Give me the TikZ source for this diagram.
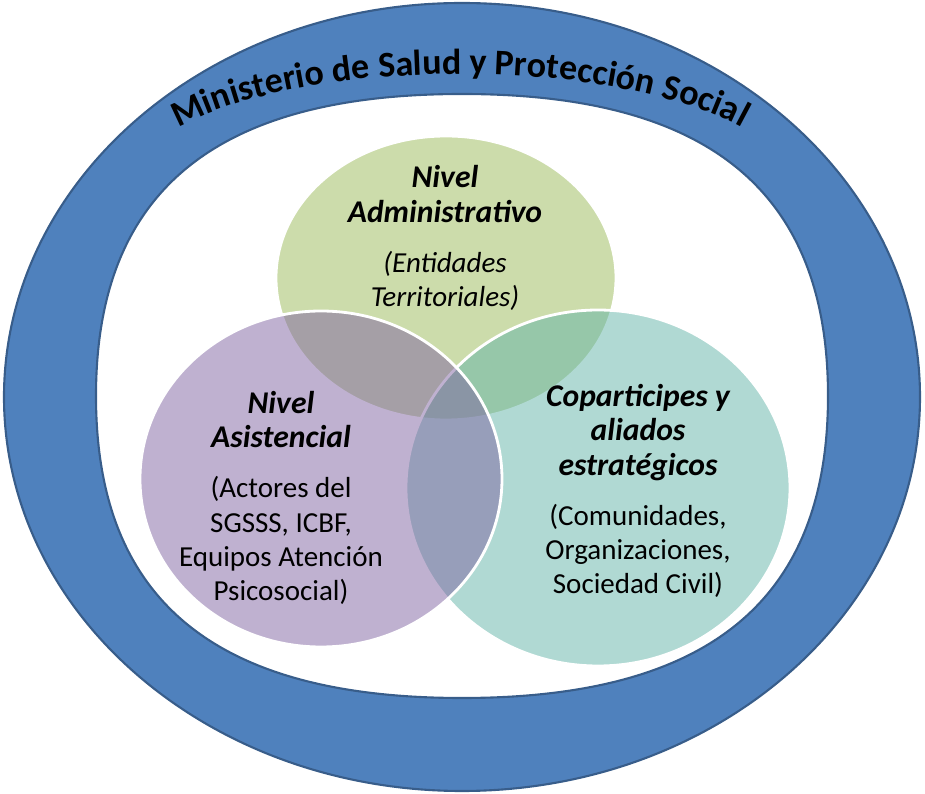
\documentclass[tikz,border=0pt]{standalone}
\usepackage{fontspec}
\setmainfont{Carlito}
\usetikzlibrary{shapes.geometric, decorations.text}

\definecolor{ringblue}{HTML}{4F81BD}
\definecolor{ringedge}{HTML}{385D8A}
\definecolor{admgreen}{HTML}{9BBB59}
\definecolor{asipurple}{HTML}{8064A2}
\definecolor{aliteal}{RGB}{98,180,168}

\newcommand{\hd}[1]{{\fontsize{18}{20}\selectfont\bfseries\itshape #1}}

\begin{document}
\begin{tikzpicture}[
  ring/.style={draw=ringedge, line width=1.2pt},
  venn/.style={ellipse, draw=white, line width=1.6pt, fill opacity=0.5, inner sep=0pt},
  txt/.style={align=center, text=black, inner sep=0pt,
              font=\fontsize{16.5}{19.5}\selectfont}
]
  \useasboundingbox (-9.24,-7.94) rectangle (9.26,7.94);

  % ring of the ministry
  \node[ring, ellipse, inner sep=0pt, fill=ringblue, minimum width=18.32cm, minimum height=15.76cm] (outer) at (0,0) {};
  \draw[ring, fill=white] (7.32,0.02)
    .. controls (7.32,4.1) and (4.95,6.06) .. (0,6.06)
    .. controls (-4.95,6.06) and (-7.32,4.1) .. (-7.32,0.02)
    .. controls (-7.32,-4.06) and (-4.95,-6.02) .. (0,-6.02)
    .. controls (4.95,-6.02) and (7.32,-4.06) .. cycle;
  \path[decorate, decoration={text along path, text align=center,
        text={|\fontsize{20.5}{22}\selectfont\bfseries|Ministerio de Salud y Protección Social}}]
    (-6.64,4.22) arc[start angle=180, end angle=0, x radius=6.6cm, y radius=2.24cm];

  % three levels
  \node[venn, fill=admgreen, minimum width=6.8cm, minimum height=5.68cm] (adm) at (-0.32,2.38) {};
  \node[venn, fill=aliteal, minimum width=7.68cm, minimum height=7.12cm] (ali) at (2.72,-1.82) {};
  \node[venn, fill=asipurple, minimum width=7.24cm, minimum height=6.72cm] (asi) at (-2.82,-1.64) {};

  \node[txt] (admtxt) at (-0.34,3.18)
    {\hd{Nivel}\\\hd{Administrativo}\\[9pt]\textit{(Entidades}\\\textit{Territoriales)}};
  \node[txt] (asitxt) at (-3.62,-2.02)
    {\hd{Nivel}\\\hd{Asistencial}\\[9pt](Actores del\\SGSSS, ICBF,\\Equipos Atención\\Psicosocial)};
  \node[txt] (alitxt) at (3.52,-1.88)
    {\hd{Coparticipes y}\\\hd{aliados}\\\hd{estratégicos}\\[9pt](Comunidades,\\Organizaciones,\\Sociedad Civil)};
\end{tikzpicture}
\end{document}
